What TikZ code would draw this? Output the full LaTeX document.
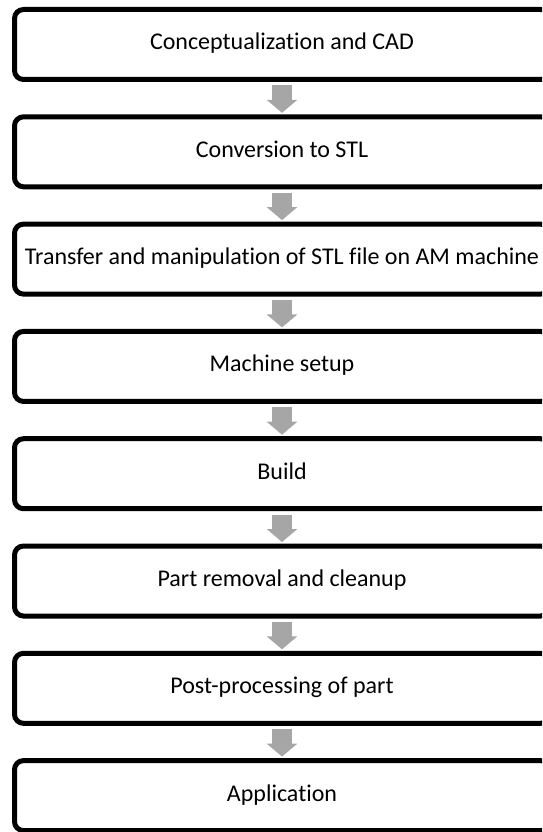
\documentclass[tikz,border=0pt]{standalone}
\usepackage{fontspec}
\setmainfont{Carlito}[Ligatures=NoCommon]
\usetikzlibrary{arrows.meta}
\tikzset{
  stepbox/.style={draw=black, line width=5pt, rounded corners=9pt, fill=white,
    minimum width=535pt, minimum height=70pt, inner sep=0pt, outer sep=0pt,
    anchor=north west},
  steptext/.style={font=\fontsize{24}{29}\selectfont, inner sep=0pt, anchor=base},
  flow/.style={line width=20pt, draw=black!35,
    -{Triangle[width=30pt, length=13pt]}, shorten <=6pt, shorten >=4pt}
}
\begin{document}
\begin{tikzpicture}[x=1pt, y=-1pt]
  \clip (0,0) rectangle (542,832);
  \fill[white] (0,0) rectangle (542,832);
  % process steps, top to bottom
  \foreach \i/\txt in {1/Conceptualization and CAD,
                       2/Conversion to STL,
                       3/Transfer and manipulation of STL file on AM machine,
                       4/Machine setup,
                       5/Build,
                       6/Part removal and cleanup,
                       7/Post-processing of part,
                       8/Application} {
    \node[stepbox] (s\i) at (14.5, {9.5 + 107.3*(\i-1)}) {};
    \node[steptext] (t\i) at (s\i.center |- 0, {50 + 107.3*(\i-1)}) {\txt};
  }
  % grey block arrows between consecutive steps
  \foreach \i [evaluate=\i as \j using int(\i+1)] in {1,...,7} {
    \draw[flow] (s\i.south) -- (s\j.north);
  }
\end{tikzpicture}
\end{document}
